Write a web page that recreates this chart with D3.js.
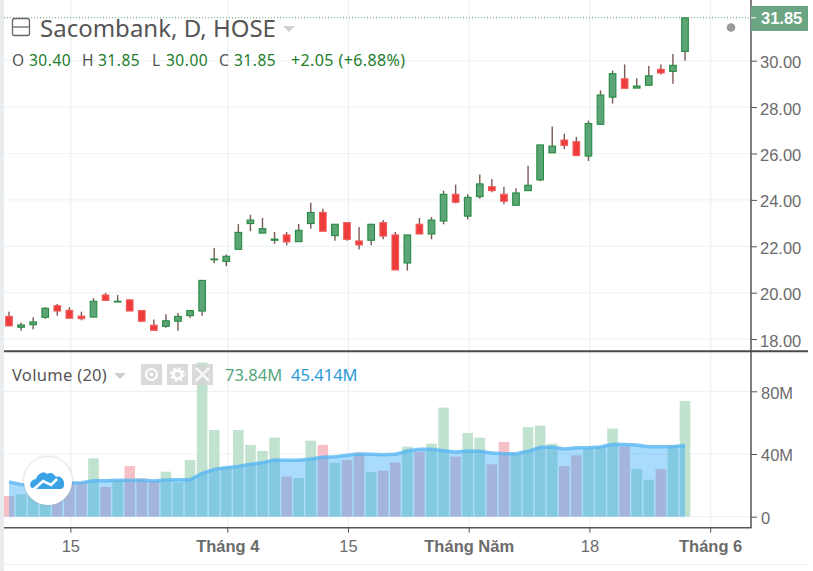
<!DOCTYPE html>
<html>
<head>
<meta charset="utf-8">
<script src="https://cdnjs.cloudflare.com/ajax/libs/d3/7.8.5/d3.min.js"></script>
<style>
  html, body { margin: 0; padding: 0; background: #fff; }
  svg { display: block; }
  .axis text { font-family: "Liberation Sans", Arial, sans-serif; font-size: 16.5px; fill: #6b6b6b; }
  .axis path, .axis line { stroke: #555; }
  .legend { font-family: "Noto Sans", sans-serif; }
</style>
</head>
<body>
<svg id="chart" width="813" height="571"></svg>
<script>
const opens = [18.98, 18.51, 18.62, 18.94, 19.44, 19.24, 18.99, 18.95, 19.9, 19.6, 19.69, 19.23, 18.6, 18.55, 18.77, 19.01, 19.21, 21.42, 21.35, 21.87, 22.98, 22.57, 22.26, 22.49, 22.2, 22.98, 23.46, 22.46, 23.02, 22.23, 22.26, 23.02, 22.49, 21.28, 22.95, 22.53, 23.09, 24.24, 23.3, 24.14, 24.57, 24.24, 23.77, 24.4, 24.86, 26.03, 26.58, 26.51, 25.89, 27.26, 28.43, 29.22, 28.82, 28.94, 29.63, 29.54, 30.4];
const highs = [19.18, 18.72, 18.94, 19.37, 19.51, 19.37, 19.18, 19.77, 19.99, 19.9, 19.72, 19.23, 18.85, 19.07, 19.12, 19.23, 20.53, 21.93, 21.65, 22.96, 23.36, 23.22, 22.62, 22.62, 22.96, 23.88, 23.62, 22.95, 23.02, 22.83, 22.95, 23.13, 22.62, 22.49, 23.22, 23.26, 24.4, 24.66, 24.24, 25.09, 24.9, 24.57, 24.5, 25.47, 26.37, 27.16, 26.85, 26.72, 27.42, 28.72, 29.57, 29.84, 29.24, 29.77, 29.84, 30.29, 31.85];
const lows = [18.55, 18.36, 18.42, 18.88, 19.01, 18.9, 18.81, 18.95, 19.67, 19.6, 19.21, 18.77, 18.38, 18.49, 18.36, 18.92, 19.01, 21.27, 21.14, 21.87, 22.65, 22.57, 22.11, 22.04, 22.2, 22.76, 22.65, 22.24, 22.24, 21.86, 22.04, 22.3, 20.98, 20.95, 22.53, 22.3, 22.95, 23.85, 23.15, 24.05, 24.33, 23.81, 23.77, 24.4, 24.8, 26.03, 26.19, 25.91, 25.68, 27.26, 28.15, 28.81, 28.82, 28.94, 29.4, 29.01, 30.0];
const closes = [18.57, 18.61, 18.74, 19.33, 19.21, 18.9, 18.88, 19.63, 19.67, 19.63, 19.21, 18.77, 18.38, 18.79, 18.98, 19.23, 20.53, 21.45, 21.57, 22.6, 23.13, 22.76, 22.31, 22.19, 22.69, 23.46, 22.65, 22.95, 22.3, 22.06, 22.95, 22.44, 20.98, 22.49, 22.53, 23.13, 24.24, 23.9, 24.11, 24.69, 24.4, 23.94, 24.3, 24.63, 26.37, 26.32, 26.35, 25.91, 27.29, 28.52, 29.44, 28.81, 28.91, 29.35, 29.47, 29.8, 31.85];
const volumes = [13.2, 14.3, 17, 20, 22, 22.5, 22, 37.2, 19, 23, 32.3, 24.5, 23, 28.7, 22, 36.2, 98.3, 55.3, 32, 55.3, 45.8, 41.9, 50.4, 25.7, 24.7, 48.5, 45.8, 34.5, 36.2, 40.9, 28.5, 29.4, 34.5, 44.7, 41.5, 46.6, 69.6, 38.3, 53.4, 50.4, 33.4, 47.7, 40.4, 57.2, 58.1, 46.6, 32.3, 39.2, 43.6, 44.7, 56.2, 44.7, 30.4, 23.6, 30.4, 45.8, 73.84];
const volumeSma = [22.1, 20.6, 20.2, 20.2, 21, 21.5, 21.7, 23, 23, 23.2, 23.2, 23.2, 22.8, 23.4, 23.6, 23.6, 27.7, 30.2, 31.3, 32.1, 33.4, 34.5, 36.2, 36, 36, 36.8, 37.9, 38.3, 39.2, 40, 39.8, 39.6, 39.8, 41.9, 43, 43, 42.1, 41.3, 41.9, 41.7, 40.6, 40.2, 40.2, 41.7, 44.3, 44.5, 43.2, 44, 44, 44.5, 46.2, 46, 45.8, 44.7, 44.7, 44.7, 45.414];

const priceTicks = [18, 20, 22, 24, 26, 28, 30];
const volumeTicks = [0, 40, 80];
const timeTicks = [5, 18, 28, 38, 48, 58];
const timeLabels = ["15", "Tháng 4", "15", "Tháng Năm", "18", "Tháng 6"];
const boldLabels = ["Tháng 4", "Tháng Năm", "Tháng 6"];
const lastPrice = 31.85;
const ohlcLabels = ["O", "H", "L", "C"];
const ohlcValues = ["30.40", "31.85", "30.00", "31.85"];

const svg = d3.select("#chart");

const paneLeft = 4;
const paneRight = 751;
const x = d3.scaleLinear().domain([0, 56]).range([9, 685]);
const yPrice = d3.scaleLinear().domain([18, 30]).range([339.1, 60.7]);
const yVol = d3.scaleLinear().domain([0, 80]).range([516.7, 391.3]);
const gridShift = 1.5; // grid sits a bit right of the candles in the original

const idx = d3.range(opens.length);
const isUp = (i) => closes[i] >= opens[i];

const defs = svg.append("defs");
defs.append("clipPath").attr("id", "pane")
  .append("rect").attr("x", paneLeft).attr("y", 0).attr("width", paneRight - paneLeft).attr("height", 528);
const shadow = defs.append("filter").attr("id", "badge").attr("x", "-30%").attr("y", "-30%").attr("width", "160%").attr("height", "160%");
shadow.append("feDropShadow").attr("dx", 0).attr("dy", 0).attr("stdDeviation", 1.5).attr("flood-color", "#999").attr("flood-opacity", 0.6);

// page frame
svg.append("rect").attr("width", 4).attr("height", 571).attr("fill", "#e9ecef");
svg.append("line").attr("x1", 4).attr("x2", 808).attr("y1", 564.5).attr("y2", 564.5).attr("stroke", "#eceef0");

// grid
const grid = svg.append("g").attr("clip-path", "url(#pane)");
grid.selectAll(".vgrid").data(timeTicks).join("line")
  .attr("x1", (d) => x(d) + gridShift).attr("x2", (d) => x(d) + gridShift)
  .attr("y1", 0).attr("y2", 528)
  .attr("stroke", "#e9eff3").attr("stroke-width", 1.2);
grid.selectAll(".pgrid").data(priceTicks).join("line")
  .attr("x1", paneLeft).attr("x2", paneRight)
  .attr("y1", (d) => yPrice(d)).attr("y2", (d) => yPrice(d))
  .attr("stroke", "#f0f4f6").attr("stroke-width", 1.2);
grid.selectAll(".vgridh").data(volumeTicks).join("line")
  .attr("x1", paneLeft).attr("x2", paneRight)
  .attr("y1", (d) => yVol(d)).attr("y2", (d) => yVol(d))
  .attr("stroke", "#eef2f5").attr("stroke-width", 1.2);

// volume bars
const plot = svg.append("g").attr("clip-path", "url(#pane)");
plot.selectAll(".vol").data(idx).join("rect")
  .attr("x", (i) => x(i) - 5.3)
  .attr("width", 10.6)
  .attr("y", (i) => yVol(volumes[i]))
  .attr("height", (i) => yVol(0) - yVol(volumes[i]))
  .attr("fill", (i) => (isUp(i) ? "#c0e2cf" : "#f6c0c6"));

// volume average
const smaArea = d3.area().x((i) => x(i)).y0(yVol(0)).y1((i) => yVol(volumeSma[i]));
const smaLine = d3.line().x((i) => x(i)).y((i) => yVol(volumeSma[i]));
plot.append("path").datum(idx).attr("d", smaArea).attr("fill", "#29a4f7").attr("fill-opacity", 0.4);
plot.append("path").datum(idx).attr("d", smaLine)
  .attr("fill", "none").attr("stroke", "#5ab6f2").attr("stroke-opacity", 0.8).attr("stroke-width", 3.5);

// last price line
svg.append("line")
  .attr("x1", paneLeft).attr("x2", paneRight)
  .attr("y1", yPrice(lastPrice)).attr("y2", yPrice(lastPrice))
  .attr("stroke", "#5a9e7c").attr("stroke-dasharray", "1 2");

// candles
const candles = svg.append("g").selectAll("g").data(idx).join("g");
candles.append("line")
  .attr("x1", (i) => x(i)).attr("x2", (i) => x(i))
  .attr("y1", (i) => yPrice(highs[i])).attr("y2", (i) => yPrice(lows[i]))
  .attr("stroke", "#7a5a56").attr("stroke-width", 1.4);
candles.append("rect")
  .attr("x", (i) => x(i) - 3.3)
  .attr("width", 6.6)
  .attr("y", (i) => yPrice(Math.max(opens[i], closes[i])))
  .attr("height", (i) => Math.abs(yPrice(opens[i]) - yPrice(closes[i])))
  .attr("fill", (i) => (isUp(i) ? "#5ca577" : "#ee3b3b"))
  .attr("stroke", (i) => (isUp(i) ? "#268a42" : "#f25a5a"))
  .attr("stroke-width", 1.1);

// axes
const axisPrice = d3.axisRight(yPrice).tickValues(priceTicks).tickFormat(d3.format(".2f")).tickSize(6).tickPadding(3);
svg.append("g").attr("class", "axis").attr("transform", "translate(" + paneRight + ",0)").call(axisPrice)
  .call((g) => g.select(".domain").remove())
  .call((g) => g.selectAll("text").attr("dy", "0.42em"));

const axisVol = d3.axisRight(yVol).tickValues(volumeTicks).tickFormat((d) => (d ? d + "M" : "0")).tickSize(6).tickPadding(4);
svg.append("g").attr("class", "axis").attr("transform", "translate(" + paneRight + ",0)").call(axisVol)
  .call((g) => g.select(".domain").remove())
  .call((g) => g.selectAll("text").attr("dy", "0.42em"));

const axisTime = d3.axisBottom(x).tickValues(timeTicks).tickFormat((d, i) => timeLabels[i]).tickSize(5).tickPadding(8);
const timeG = svg.append("g").attr("class", "axis").attr("transform", "translate(1,527.7)").call(axisTime);
timeG.select(".domain").remove();
timeG.selectAll("text")
  .style("font-weight", (d, i) => (boldLabels.includes(timeLabels[i]) ? "bold" : "normal"));

svg.append("line").attr("x1", paneLeft).attr("x2", paneRight + 0.5).attr("y1", 527.7).attr("y2", 527.7).attr("stroke", "#555").attr("stroke-width", 1.5);
svg.append("line").attr("x1", paneRight).attr("x2", paneRight).attr("y1", 0).attr("y2", 528).attr("stroke", "#555").attr("stroke-width", 1.5);
svg.append("line").attr("x1", paneLeft).attr("x2", 808).attr("y1", 351.3).attr("y2", 351.3).attr("stroke", "#4a4a4a").attr("stroke-width", 2);

// last price tag
svg.append("rect").attr("x", paneRight).attr("y", 6).attr("width", 57).attr("height", 25).attr("fill", "#6ba583");
svg.append("line").attr("x1", paneRight).attr("x2", paneRight + 5).attr("y1", yPrice(lastPrice)).attr("y2", yPrice(lastPrice)).attr("stroke", "#fff");
svg.append("text").attr("x", 761).attr("y", yPrice(lastPrice) + 6)
  .attr("font-family", "Liberation Sans, Arial, sans-serif").attr("font-size", 16.5).attr("font-weight", "bold").attr("fill", "#fff")
  .text(d3.format(".2f")(lastPrice));
svg.append("circle").attr("cx", 731).attr("cy", 27.5).attr("r", 4.3).attr("fill", "#9a9a9a");

// title legend
svg.append("rect").attr("x", 12.5).attr("y", 18.5).attr("width", 17).attr("height", 17).attr("rx", 2)
  .attr("fill", "none").attr("stroke", "#666").attr("stroke-width", 1.3);
svg.append("line").attr("x1", 12.5).attr("x2", 29.5).attr("y1", 27).attr("y2", 27).attr("stroke", "#666").attr("stroke-width", 1.3);
svg.append("text").attr("class", "legend").attr("x", 40).attr("y", 37)
  .attr("font-size", 24).attr("fill", "#555").text("Sacombank, D, HOSE");
svg.append("path").attr("d", "M283,26 h12 l-6,6 z").attr("fill", "#d0d0d0");

const ohlcX = [12, 82, 152, 219];
const ohlcValueX = [29, 98, 166, 234];
svg.selectAll(".ohlcL").data(ohlcLabels).join("text")
  .attr("class", "legend").attr("x", (d, i) => ohlcX[i]).attr("y", 66)
  .attr("font-size", 15.5).attr("fill", "#555").text((d) => d);
svg.selectAll(".ohlcV").data(ohlcValues).join("text")
  .attr("class", "legend").attr("x", (d, i) => ohlcValueX[i]).attr("y", 66)
  .attr("font-size", 15.5).attr("letter-spacing", 0.5).attr("fill", "#1c7d2b").text((d) => d);
svg.append("text").attr("class", "legend").attr("x", 291).attr("y", 66)
  .attr("font-size", 16).attr("letter-spacing", 0.4).attr("fill", "#1c7d2b").text("+2.05 (+6.88%)");

// volume legend
svg.append("text").attr("class", "legend").attr("x", 12).attr("y", 381)
  .attr("font-size", 16.5).attr("letter-spacing", 0.3).attr("fill", "#555").text("Volume (20)");
svg.append("path").attr("d", "M114,373 h12 l-6,6 z").attr("fill", "#d0d0d0");
[141, 167, 192].forEach((bx) => {
  svg.append("rect").attr("x", bx).attr("y", 364).attr("width", 21).attr("height", 21).attr("fill", "#d4d4d4").attr("fill-opacity", 0.85);
});
svg.append("circle").attr("cx", 151.5).attr("cy", 374.5).attr("r", 5.5).attr("fill", "none").attr("stroke", "#fff").attr("stroke-width", 2);
svg.append("circle").attr("cx", 151.5).attr("cy", 374.5).attr("r", 1.8).attr("fill", "#fff");
svg.append("circle").attr("cx", 177.5).attr("cy", 374.5).attr("r", 4.2).attr("fill", "none").attr("stroke", "#fff").attr("stroke-width", 2.8);
svg.append("circle").attr("cx", 177.5).attr("cy", 374.5).attr("r", 6.4).attr("fill", "none").attr("stroke", "#fff").attr("stroke-width", 2).attr("stroke-dasharray", "2.5 2.5");
svg.append("path").attr("d", "M196,368 L209,381 M209,368 L196,381").attr("stroke", "#fff").attr("stroke-opacity", 0.8).attr("stroke-width", 2.5);
svg.append("text").attr("class", "legend").attr("x", 225).attr("y", 381)
  .attr("font-size", 16.5).attr("fill", "#57a77e").text("73.84M");
svg.append("text").attr("class", "legend").attr("x", 291).attr("y", 381)
  .attr("font-size", 16.5).attr("fill", "#2a9ad8").text("45.414M");

// logo badge
svg.append("circle").attr("cx", 48).attr("cy", 481).attr("r", 24).attr("fill", "#fff").attr("filter", "url(#badge)");
svg.append("path")
  .attr("d", "M32,488 C28,486 31,479 36,479 C38,473 44,471 47,474 C50,472 54,473 56,477 C61,475 65,481 64,485 C64,488 62,489 60,489 L38,489 Z")
  .attr("fill", "#3aa3e6");
svg.append("path").attr("d", "M33,490 L43,481 L51,485 L57,479").attr("fill", "none").attr("stroke", "#fff").attr("stroke-width", 2.6);
</script>
</body>
</html>
